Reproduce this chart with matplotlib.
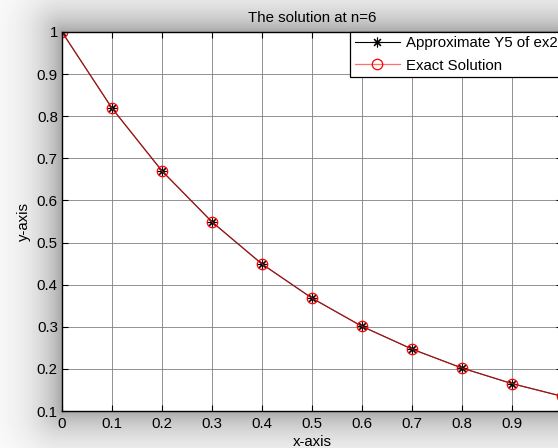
import numpy as np
import matplotlib
matplotlib.use('Agg')
import matplotlib.pyplot as plt

plt.rcParams['font.family'] = ['Liberation Sans', 'DejaVu Sans']

x_vals = [0.0, 0.1, 0.2, 0.3, 0.4, 0.5, 0.6, 0.7, 0.8, 0.9, 1.0]
y_approx = [1.000, 0.819, 0.670, 0.549, 0.449, 0.368, 0.301, 0.247, 0.202, 0.165, 0.135]
y_exact = [1.000, 0.819, 0.670, 0.549, 0.449, 0.368, 0.301, 0.247, 0.202, 0.165, 0.135]
x_ticks = [0, 0.1, 0.2, 0.3, 0.4, 0.5, 0.6, 0.7, 0.8, 0.9, 1.0]
x_labels = ['0', '0.1', '0.2', '0.3', '0.4', '0.5', '0.6', '0.7', '0.8', '0.9', '']
y_ticks = [0.1, 0.2, 0.3, 0.4, 0.5, 0.6, 0.7, 0.8, 0.9, 1.0]
y_labels = ['0.1', '0.2', '0.3', '0.4', '0.5', '0.6', '0.7', '0.8', '0.9', '1']

W, H = 558, 448
fig = plt.figure(figsize=(W / 100, H / 100), dpi=100)
fig.patch.set_facecolor('white')

# axes box in pixels (from top-left), right edge runs past the picture
ax_l, ax_r, ax_t, ax_b = 62, 562, 32, 411

# grey shadow round the axes
px = np.arange(W) + 0.5
py = np.arange(H) + 0.5
PX, PY = np.meshgrid(px, py)
dx = np.maximum(np.maximum(ax_l - PX, PX - ax_r), 0)
dy = np.maximum(np.maximum(ax_t - PY, PY - ax_b), 0)
d = np.hypot(dx, dy)
shade = 1 - 0.34 * np.exp(-d / 26.0)
bg = fig.add_axes([0, 0, 1, 1], zorder=-1)
bg.imshow(shade, cmap='gray', vmin=0, vmax=1, extent=(0, W, H, 0), aspect='auto',
          interpolation='bilinear')
bg.axis('off')

ax = fig.add_axes([ax_l / W, (H - ax_b) / H, (ax_r - ax_l) / W, (ax_b - ax_t) / H])
ax.set_facecolor('white')

ax.plot(x_vals, y_approx, color='black', lw=0.8, marker=(8, 2, 0), ms=7, mew=0.8,
        label='Approximate Y5 of ex2')
ax.plot(x_vals, y_exact, color=(1, 0.1, 0.1, 0.62), lw=0.9, marker='o', ms=7.5,
        mfc='none', mec='red', mew=0.9, label='Exact Solution')

ax.set_xlim(0, 1)
ax.set_ylim(0.1, 1)
ax.set_xticks(x_ticks)
ax.set_xticklabels(x_labels)
ax.set_yticks(y_ticks)
ax.set_yticklabels(y_labels)
ax.tick_params(direction='in', length=4, width=0.8, top=True, right=True,
               labelsize=10.8)
ax.tick_params(axis='x', pad=4.5)
ax.tick_params(axis='y', pad=3)
ax.grid(True, color='0.5', lw=0.6)
for s in ax.spines.values():
    s.set_linewidth(1.0)
    s.set_color('black')

ax.set_title('The solution at n=6', fontsize=10.8, pad=7)
ax.set_xlabel('x-axis', fontsize=10.8, labelpad=3)
ax.set_ylabel('y-axis', fontsize=10.8, labelpad=4)

leg = ax.legend(loc='upper right', fontsize=10.8, borderaxespad=0, fancybox=False,
                framealpha=1, edgecolor='black', handlelength=3.0, handletextpad=0.4,
                borderpad=0.3, labelspacing=0.55)
leg.get_frame().set_linewidth(0.9)

fig.savefig('out.png', dpi=100)
